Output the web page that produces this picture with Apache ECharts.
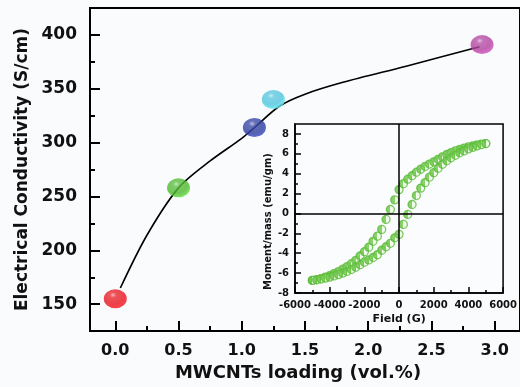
<!DOCTYPE html>
<html>
<head>
<meta charset="utf-8">
<script src="https://cdn.jsdelivr.net/npm/echarts@6/dist/echarts.min.js"></script>
<style>
  html, body { margin: 0; padding: 0; background: #fafbfd; }
  #chart { width: 520px; height: 387px; }
</style>
</head>
<body>
<div id="chart"></div>
<script>
// Main plot: conductivity vs MWCNT loading
const loading = [0, 0.5, 1.1, 1.25, 2.9];
const conductivity = [155, 258, 314, 340, 391];
const ballColors = ['#e8121c', '#4cb82c', '#2b3b9e', '#4ec4dc', '#b03f9e'];

// Fitted curve
const fitLoading = [0.04, 0.25, 0.5, 0.75, 1.0, 1.1, 1.3, 1.5, 1.8, 2.3, 2.88];
const fitConductivity = [165, 214, 258, 283, 304, 314, 334, 345, 356, 371, 389];

const xTicks = [0, 0.5, 1.0, 1.5, 2.0, 2.5, 3.0];
const xMinorTicks = [0.25, 0.75, 1.25, 1.75, 2.25, 2.75];
const yTicks = [150, 200, 250, 300, 350, 400];
const yMinorTicks = [175, 225, 275, 325, 375];

// Inset: hysteresis loop
const fieldUp = [-5000, -4750, -4500, -4250, -4000, -3750, -3500, -3250, -3000, -2750, -2500,
  -2250, -2000, -1750, -1500, -1250, -1000, -750, -500, -250, 0, 250, 500, 750, 1000, 1250,
  1500, 1750, 2000, 2250, 2500, 2750, 3000, 3250, 3500, 3750, 4000, 4250, 4500, 4750, 5000];
const momentLower = [-6.73, -6.67, -6.6, -6.5, -6.4, -6.28, -6.15, -6.0, -5.83, -5.63, -5.4,
  -5.15, -4.9, -4.67, -4.43, -4.15, -3.7, -3.35, -3.0, -2.45, -2.1, -1.1, -0.1, 0.9, 1.8, 2.55,
  3.1, 3.65, 4.1, 4.55, 4.95, 5.3, 5.6, 5.85, 6.1, 6.3, 6.5, 6.65, 6.8, 6.92, 7.03];
const momentUpper = [-6.73, -6.65, -6.55, -6.4, -6.25, -6.05, -5.85, -5.6, -5.35, -5.05, -4.72,
  -4.28, -3.85, -3.4, -2.8, -2.28, -1.6, -0.6, 0.4, 1.37, 2.4, 3.0, 3.45, 3.8, 4.15, 4.45,
  4.73, 4.97, 5.2, 5.45, 5.7, 5.93, 6.13, 6.3, 6.45, 6.58, 6.7, 6.8, 6.9, 6.97, 7.03];
const insetXTicks = [-6000, -4000, -2000, 0, 2000, 4000, 6000];
const insetYTicks = [-8, -6, -4, -2, 0, 2, 4, 6, 8];
const insetYMinorTicks = [-7, -5, -3, -1, 1, 3, 5, 7];

const FONT = 'DejaVu Sans';

function ball(color) {
    return {
        type: 'radial', x: 0.4, y: 0.3, r: 0.8,
        colorStops: [
            { offset: 0, color: echarts.color.lift(color, 0.6) },
            { offset: 0.18, color: echarts.color.lift(color, 0.1) },
            { offset: 0.6, color: color },
            { offset: 1, color: echarts.color.lift(color, -0.3) }
        ]
    };
}

const hollowGreen = {
    type: 'linear', x: 0, y: 0, x2: 1, y2: 0,
    colorStops: [
        { offset: 0, color: '#6cc646' }, { offset: 0.5, color: '#6cc646' },
        { offset: 0.5, color: '#eef9e6' }, { offset: 1, color: '#eef9e6' }
    ]
};

const chart = echarts.init(document.getElementById('chart'), null, { renderer: 'canvas' });

const option = {
    backgroundColor: '#fafbfd',
    animation: false,
    grid: [
        { left: 90, top: 8, right: -8, bottom: 53, show: true, borderColor: '#000', borderWidth: 2, backgroundColor: 'transparent' },
        { left: 295, top: 124, width: 213, height: 169, show: true, borderColor: '#000', borderWidth: 1.5, backgroundColor: '#fbfcfe' }
    ],
    xAxis: [
        {
            type: 'value', gridIndex: 0, position: 'bottom', min: -0.2, max: 3.2,
            name: 'MWCNTs loading (vol.%)', nameLocation: 'middle', nameGap: 32,
            nameTextStyle: { fontFamily: FONT, fontWeight: 'bold', fontSize: 18, color: '#111', padding: [0, 14, 0, 0] },
            axisLine: { onZero: false, lineStyle: { color: '#000', width: 2 } },
            axisTick: { inside: true, length: 10, lineStyle: { color: '#000', width: 2 }, customValues: xTicks },
            axisLabel: { customValues: xTicks, margin: 12, fontFamily: FONT, fontWeight: 'bold', fontSize: 16, color: '#111',
                formatter: v => v.toFixed(1) },
            splitLine: { show: false }
        },
        {
            type: 'value', gridIndex: 0, position: 'bottom', min: -0.2, max: 3.2,
            axisLine: { show: false, onZero: false },
            axisTick: { inside: true, length: 5, lineStyle: { color: '#000', width: 2 }, customValues: xMinorTicks },
            axisLabel: { show: false },
            splitLine: { show: false }
        },
        {
            type: 'value', gridIndex: 1, position: 'bottom', min: -6000, max: 6000, interval: 2000,
            name: 'Field (G)', nameLocation: 'middle', nameGap: 21,
            nameTextStyle: { fontFamily: FONT, fontWeight: 'bold', fontSize: 11, color: '#111' },
            axisLine: { onZero: false, lineStyle: { color: '#000', width: 1.5 } },
            axisTick: { inside: true, length: 6, lineStyle: { color: '#000', width: 1.5 } },
            minorTick: { show: true, splitNumber: 2, length: 3, lineStyle: { color: '#000', width: 1.5 } },
            axisLabel: { customValues: insetXTicks, margin: 7, fontFamily: FONT, fontWeight: 'bold', fontSize: 10, color: '#111',
                hideOverlap: false, showMinLabel: true, showMaxLabel: true, formatter: v => String(v) },
            splitLine: { show: false }
        }
    ],
    yAxis: [
        {
            type: 'value', gridIndex: 0, position: 'left', min: 125, max: 425,
            name: 'Electrical Conductivity (S/cm)', nameLocation: 'middle', nameGap: 56, nameRotate: 90,
            nameTextStyle: { fontFamily: FONT, fontWeight: 'bold', fontSize: 17, color: '#111' },
            axisLine: { show: true, onZero: false, lineStyle: { color: '#000', width: 2 } },
            axisTick: { show: true, inside: true, length: 10, lineStyle: { color: '#000', width: 2 }, customValues: yTicks },
            axisLabel: { customValues: yTicks, margin: 13, fontFamily: FONT, fontWeight: 'bold', fontSize: 17, color: '#111' },
            splitLine: { show: false }
        },
        {
            type: 'value', gridIndex: 0, position: 'left', min: 125, max: 425,
            axisLine: { show: false, onZero: false },
            axisTick: { show: true, inside: true, length: 5, lineStyle: { color: '#000', width: 2 }, customValues: yMinorTicks },
            axisLabel: { show: false },
            splitLine: { show: false }
        },
        {
            type: 'value', gridIndex: 1, position: 'left', min: -8, max: 9,
            name: 'Moment/mass (emu/gm)', nameLocation: 'middle', nameGap: 22, nameRotate: 90,
            nameTextStyle: { fontFamily: FONT, fontWeight: 'bold', fontSize: 10, color: '#111', padding: [0, 26, 0, 0] },
            axisLine: { show: true, onZero: false, lineStyle: { color: '#000', width: 1.5 } },
            axisTick: { show: true, inside: true, length: 6, lineStyle: { color: '#000', width: 1.5 }, customValues: insetYTicks },
            axisLabel: { customValues: insetYTicks, margin: 6, fontFamily: FONT, fontWeight: 'bold', fontSize: 10, color: '#111' },
            splitLine: { show: false }
        },
        {
            type: 'value', gridIndex: 1, position: 'left', min: -8, max: 9,
            axisLine: { show: false, onZero: false },
            axisTick: { show: true, inside: true, length: 3, lineStyle: { color: '#000', width: 1.5 }, customValues: insetYMinorTicks },
            axisLabel: { show: false },
            splitLine: { show: false }
        }
    ],
    series: [
        {
            name: 'fit', type: 'line', xAxisIndex: 0, yAxisIndex: 0,
            data: fitLoading.map((x, i) => [x, fitConductivity[i]]),
            smooth: 0.3, showSymbol: false, symbol: 'none',
            lineStyle: { color: '#000', width: 1.6 }, z: 2
        },
        {
            name: 'conductivity', type: 'scatter', xAxisIndex: 0, yAxisIndex: 0,
            symbol: 'circle', symbolSize: [23, 19],
            data: loading.map((x, i) => ({
                value: [x, conductivity[i]],
                itemStyle: { color: ball(ballColors[i]) }
            })),
            z: 3
        },
        {
            name: 'descending', type: 'scatter', xAxisIndex: 2, yAxisIndex: 2,
            symbol: 'circle', symbolSize: 8,
            data: fieldUp.map((h, i) => [h, momentUpper[i]]),
            itemStyle: { color: hollowGreen, borderColor: '#5bbb3a', borderWidth: 1.3 },
            markLine: {
                silent: true, symbol: 'none', label: { show: false },
                lineStyle: { color: '#000', width: 1.5, type: 'solid' },
                data: [{ xAxis: 0 }, { yAxis: 0 }]
            },
            z: 3
        },
        {
            name: 'ascending', type: 'scatter', xAxisIndex: 2, yAxisIndex: 2,
            symbol: 'circle', symbolSize: 8,
            data: fieldUp.map((h, i) => [h, momentLower[i]]),
            itemStyle: { color: hollowGreen, borderColor: '#5bbb3a', borderWidth: 1.3 },
            z: 3
        }
    ]
};

chart.setOption(option);
</script>
</body>
</html>
